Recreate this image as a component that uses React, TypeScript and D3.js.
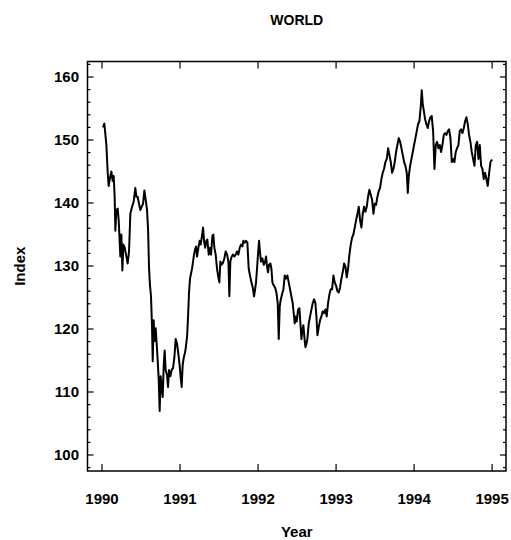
import React, { useEffect, useRef } from 'react';
import * as d3 from 'd3';

// World index as [years since 1990, index]
const world1990: [number, number][] = [
  [0.013, 152.0], [0.030, 152.6], [0.056, 149.2], [0.073, 144.8], [0.085, 142.7], [0.107, 144.3],
  [0.120, 145.0], [0.137, 143.5], [0.150, 144.3], [0.162, 141.0], [0.171, 135.6], [0.184, 138.9],
  [0.201, 139.1], [0.214, 137.2], [0.226, 134.0], [0.235, 131.5], [0.248, 135.0], [0.261, 129.3],
  [0.274, 133.4], [0.291, 132.9], [0.308, 131.8], [0.329, 130.4], [0.346, 132.3], [0.363, 138.3],
  [0.385, 139.4], [0.406, 140.2], [0.427, 142.4], [0.440, 141.0], [0.457, 141.0], [0.474, 139.9],
  [0.491, 138.9], [0.509, 139.4], [0.526, 139.9], [0.543, 142.0], [0.560, 140.5], [0.577, 138.9],
  [0.590, 135.9], [0.603, 129.6], [0.615, 126.9], [0.628, 125.2], [0.641, 120.3], [0.650, 114.9],
  [0.662, 121.4], [0.675, 118.1], [0.688, 120.1], [0.701, 117.6], [0.714, 114.9], [0.726, 112.2],
  [0.739, 107.0], [0.752, 112.5], [0.765, 110.8], [0.778, 109.2], [0.791, 114.3], [0.803, 116.6],
  [0.816, 113.5], [0.833, 112.7], [0.846, 110.8], [0.859, 113.5], [0.876, 112.5], [0.893, 113.5],
  [0.910, 113.8], [0.927, 115.4], [0.944, 118.4], [0.962, 117.6], [0.979, 116.0], [0.996, 114.1],
];
const world1991: [number, number][] = [
  [1.009, 112.2], [1.021, 110.8], [1.034, 114.3], [1.047, 115.4], [1.068, 116.5], [1.090, 118.7],
  [1.103, 122.0], [1.115, 125.8], [1.128, 128.0], [1.141, 128.8], [1.154, 129.6], [1.167, 130.7],
  [1.179, 131.8], [1.192, 132.6], [1.205, 133.1], [1.218, 131.5], [1.235, 132.9], [1.252, 134.0],
  [1.265, 133.4], [1.278, 134.5], [1.295, 136.1], [1.308, 134.0], [1.321, 132.9], [1.338, 134.0],
  [1.350, 134.2], [1.368, 131.8], [1.380, 132.9], [1.397, 131.8], [1.415, 134.8], [1.427, 135.0],
  [1.440, 132.9], [1.457, 131.8], [1.474, 129.6], [1.487, 128.5], [1.504, 127.4], [1.517, 130.7],
  [1.534, 130.2], [1.547, 130.4], [1.568, 131.2], [1.585, 132.3], [1.603, 131.8], [1.620, 130.7],
  [1.632, 125.2], [1.645, 130.7], [1.662, 131.5], [1.679, 131.8], [1.697, 131.5], [1.714, 131.8],
  [1.731, 132.3], [1.748, 131.8], [1.765, 132.9], [1.782, 133.4], [1.799, 133.1], [1.812, 134.0],
  [1.829, 133.7], [1.846, 134.0], [1.863, 133.7], [1.880, 129.6], [1.897, 128.5], [1.915, 127.4],
  [1.932, 126.6], [1.949, 125.2], [1.962, 126.3], [1.974, 127.4], [1.987, 129.6],
];
const world1992: [number, number][] = [
  [2.000, 132.0], [2.013, 134.0], [2.026, 132.0], [2.038, 130.7], [2.056, 131.2], [2.073, 130.2],
  [2.090, 130.7], [2.103, 131.5], [2.115, 129.9], [2.128, 129.0], [2.141, 130.2], [2.158, 130.4],
  [2.171, 129.6], [2.184, 127.4], [2.201, 126.9], [2.218, 126.6], [2.235, 125.8], [2.252, 124.1],
  [2.265, 118.4], [2.278, 123.6], [2.291, 124.7], [2.308, 125.5], [2.325, 126.3], [2.342, 128.5],
  [2.359, 128.0], [2.376, 128.5], [2.393, 127.4], [2.410, 126.3], [2.427, 125.2], [2.444, 124.1],
  [2.457, 122.5], [2.470, 120.9], [2.483, 122.0], [2.496, 121.2], [2.513, 123.1], [2.530, 123.3],
  [2.543, 120.9], [2.556, 118.4], [2.568, 119.8], [2.581, 120.6], [2.594, 118.7], [2.607, 117.1],
  [2.620, 117.6], [2.632, 118.4], [2.650, 120.9], [2.667, 122.0], [2.684, 123.1], [2.701, 124.1],
  [2.718, 124.7], [2.735, 124.1], [2.748, 122.0], [2.761, 119.0], [2.778, 120.3], [2.795, 121.4],
  [2.812, 122.0], [2.829, 122.8], [2.846, 122.5], [2.863, 123.1], [2.880, 122.0], [2.897, 124.1],
  [2.915, 125.5], [2.932, 126.3], [2.949, 126.3], [2.966, 128.5], [2.983, 127.4],
];
const world1993: [number, number][] = [
  [3.000, 126.9], [3.017, 126.0], [3.034, 125.8], [3.051, 126.6], [3.068, 128.0], [3.085, 129.0],
  [3.103, 130.4], [3.120, 129.9], [3.137, 128.2], [3.154, 129.6], [3.171, 131.8], [3.188, 133.4],
  [3.205, 134.5], [3.222, 135.0], [3.239, 136.1], [3.256, 137.2], [3.274, 138.3], [3.291, 139.4],
  [3.308, 137.2], [3.325, 136.1], [3.342, 138.3], [3.359, 139.4], [3.376, 138.6], [3.393, 139.4],
  [3.410, 141.0], [3.427, 142.1], [3.444, 141.3], [3.462, 140.5], [3.479, 138.3], [3.496, 139.9],
  [3.513, 139.7], [3.530, 141.0], [3.547, 141.9], [3.564, 142.4], [3.581, 143.8], [3.598, 144.8],
  [3.615, 145.4], [3.632, 146.5], [3.650, 147.0], [3.667, 148.7], [3.684, 147.6], [3.701, 146.5],
  [3.718, 144.8], [3.735, 145.4], [3.752, 146.5], [3.769, 148.1], [3.786, 149.2], [3.803, 150.3],
  [3.821, 149.7], [3.838, 148.7], [3.855, 147.6], [3.872, 146.5], [3.889, 145.9], [3.906, 144.8],
  [3.919, 141.6], [3.932, 144.3], [3.949, 145.9], [3.966, 147.0], [3.983, 148.1],
];
const world1994: [number, number][] = [
  [4.000, 149.2], [4.017, 150.3], [4.034, 151.4], [4.051, 152.5], [4.068, 153.0], [4.085, 155.2],
  [4.098, 157.9], [4.111, 155.7], [4.124, 154.7], [4.141, 153.3], [4.158, 152.5], [4.175, 151.9],
  [4.192, 153.0], [4.209, 153.6], [4.226, 153.8], [4.244, 151.4], [4.261, 145.4], [4.278, 149.2],
  [4.295, 149.7], [4.312, 148.7], [4.329, 149.2], [4.346, 148.1], [4.363, 149.2], [4.380, 150.8],
  [4.397, 151.1], [4.415, 150.8], [4.432, 151.4], [4.449, 151.7], [4.466, 150.3], [4.483, 146.5],
  [4.500, 147.0], [4.517, 146.5], [4.534, 148.1], [4.551, 148.7], [4.568, 149.2], [4.585, 151.4],
  [4.603, 151.7], [4.620, 151.1], [4.637, 151.9], [4.654, 153.0], [4.671, 153.6], [4.688, 152.5],
  [4.705, 150.8], [4.722, 149.7], [4.739, 148.1], [4.756, 147.0], [4.774, 145.9], [4.791, 149.2],
  [4.808, 149.7], [4.825, 147.0], [4.842, 149.2], [4.859, 145.9], [4.876, 145.4], [4.893, 143.8],
  [4.910, 144.8], [4.927, 143.8], [4.944, 142.7], [4.962, 144.8], [4.979, 146.5], [5.000, 146.9],
];

const yearTicks = [1990, 1991, 1992, 1993, 1994, 1995];
const indexTicks = [100, 110, 120, 130, 140, 150, 160];
const indexMinorTicks = d3.range(98, 163, 2);

const font = "'Liberation Sans', Arial, Helvetica, sans-serif";

const App = () => {
  const svgRef = useRef<SVGSVGElement>(null);

  useEffect(() => {
    const svg = d3.select(svgRef.current);
    svg.selectAll('*').remove();

    const frame = { left: 87.5, right: 506, top: 61.5, bottom: 471 };

    const x = d3.scaleLinear().domain([1989.814, 1995.178]).range([frame.left, frame.right]);
    const y = d3.scaleLinear().domain([97.46, 162.46]).range([frame.bottom, frame.top]);

    const data = [...world1990, ...world1991, ...world1992, ...world1993, ...world1994].map(
      ([t, v]) => ({ year: 1990 + t, value: v })
    );

    svg.append('rect').attr('width', 511).attr('height', 540).attr('fill', '#fff');

    // ticks (inward, on all four sides)
    const ticks = svg.append('g').attr('stroke', '#000').attr('stroke-width', 1.2);
    indexMinorTicks.forEach((v) => {
      const major = v % 10 === 0;
      const len = major ? 6 : 3;
      ticks.append('line')
        .attr('x1', frame.left).attr('x2', frame.left + len)
        .attr('y1', y(v)).attr('y2', y(v));
      ticks.append('line')
        .attr('x1', frame.right).attr('x2', frame.right - len)
        .attr('y1', y(v)).attr('y2', y(v));
    });
    yearTicks.forEach((yr) => {
      ticks.append('line')
        .attr('x1', x(yr)).attr('x2', x(yr))
        .attr('y1', frame.bottom).attr('y2', frame.bottom - 7);
      ticks.append('line')
        .attr('x1', x(yr)).attr('x2', x(yr))
        .attr('y1', frame.top).attr('y2', frame.top + 7);
    });

    svg.append('rect')
      .attr('x', frame.left).attr('y', frame.top)
      .attr('width', frame.right - frame.left).attr('height', frame.bottom - frame.top)
      .attr('fill', 'none').attr('stroke', '#000').attr('stroke-width', 1.5);

    const line = d3.line<{ year: number; value: number }>()
      .x((d) => x(d.year))
      .y((d) => y(d.value));

    svg.append('path')
      .datum(data)
      .attr('d', line)
      .attr('fill', 'none')
      .attr('stroke', '#000')
      .attr('stroke-width', 2)
      .attr('stroke-linejoin', 'round');

    const labels = svg.append('g')
      .attr('font-family', font)
      .attr('font-weight', 'bold')
      .attr('font-size', 15)
      .attr('fill', '#000');

    indexTicks.forEach((v) => {
      labels.append('text')
        .attr('x', 79).attr('y', y(v)).attr('dy', '0.36em')
        .attr('text-anchor', 'end')
        .text(v);
    });
    yearTicks.forEach((yr) => {
      labels.append('text')
        .attr('x', x(yr)).attr('y', 504)
        .attr('text-anchor', 'middle')
        .text(yr);
    });

    labels.append('text')
      .attr('x', (frame.left + frame.right) / 2).attr('y', 25)
      .attr('text-anchor', 'middle').attr('font-size', 14)
      .text('WORLD');
    labels.append('text')
      .attr('x', (frame.left + frame.right) / 2).attr('y', 537)
      .attr('text-anchor', 'middle')
      .text('Year');
    labels.append('text')
      .attr('transform', `translate(25, ${(frame.top + frame.bottom) / 2}) rotate(-90)`)
      .attr('text-anchor', 'middle')
      .text('Index');
  }, []);

  return (
    <svg
      ref={svgRef}
      width={511}
      height={540}
      style={{ position: 'absolute', left: 0, top: 0, display: 'block' }}
    />
  );
};

export default App;
